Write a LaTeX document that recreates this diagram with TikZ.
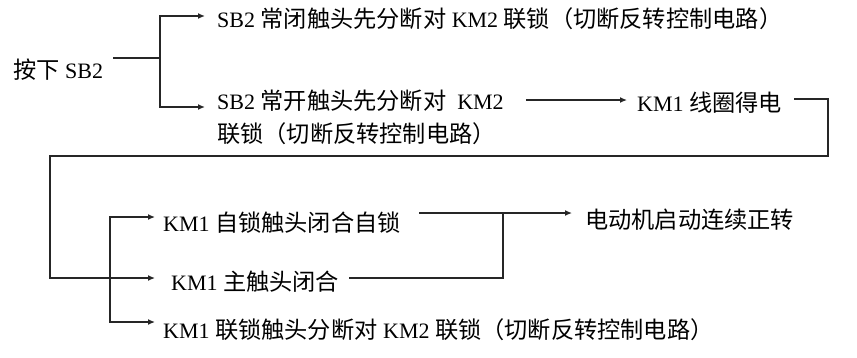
\documentclass[tikz,border=0pt]{standalone}
\usepackage{fontspec}
\setmainfont{Liberation Serif}
\newfontfamily\cjk{Noto Sans CJK SC}[Scale=1.055]
\newcommand\zh[1]{{\cjk #1}}
\usetikzlibrary{arrows.meta,calc}
\tikzset{
  lbl/.style={anchor=west,inner sep=0pt,align=left,font=\fontsize{22}{33}\selectfont},
  conn/.style={line width=1.3pt,draw=black!85},
  arr/.style={conn,-{Latex[length=7pt,width=6pt]}}
}
\begin{document}
\begin{tikzpicture}[x=1pt,y=-1pt]
\useasboundingbox (0,0) rectangle (857,357);
% nodes
\node[lbl] (press) at (13,70) {\zh{按下} SB2};
\node[lbl] (t1) at (217,19) {SB2 \zh{常闭触头先分断对} KM2 \zh{联锁（切断反转控制电路）}};
\node[lbl] (t2) at (217,117.5) {SB2 \zh{常开触头先分断对}\ \ KM2\\\zh{联锁（切断反转控制电路）}};
\node[lbl] (km1) at (637,103) {KM1 \zh{线圈得电}};
\node[lbl] (s1) at (163,223) {KM1 \zh{自锁触头闭合自锁}};
\node[lbl] (s2) at (171,282) {KM1 \zh{主触头闭合}};
\node[lbl] (s3) at (163,330) {KM1 \zh{联锁触头分断对} KM2 \zh{联锁（切断反转控制电路）}};
\node[lbl] (motor) at (585,220) {\zh{电动机启动连续正转}};
% junctions
\coordinate (j1) at (160,58);
\coordinate (c1) at (828,156);
\coordinate (c2) at (50,156);
\coordinate (j2) at (110,278);
\coordinate (j3) at (503,213);
% connectors
\draw[conn] ([xshift=10pt]press.east |- j1) -- (j1);
\draw[arr,shorten >=12pt] (j1) |- ($(t1.west)+(0,-3)$);
\draw[arr,shorten >=12pt] (j1) |- ($(t2.west)+(0,-10.5)$);
\draw[arr,shorten <=22pt,shorten >=10pt] ($(t2.east|-km1.west)+(0,-3)$) -- ($(km1.west)+(0,-3)$);
\draw[arr,shorten >=16pt] ($(km1.east)+(12,-4)$) -| (c1) -- (c2) |- ($(s2.west)+(0,-4)$);
\draw[arr,shorten >=8pt] (j2) |- ($(s1.west)+(0,-6)$);
\draw[arr,shorten >=8pt] (j2) |- ($(s3.west)+(0,-8)$);
\draw[arr,shorten >=13pt] ([xshift=18pt]s1.east |- j3) -- (j3 -| motor.west);
\draw[conn] ($(s2.east)+(10,-4)$) -| (j3);
\end{tikzpicture}
\end{document}
